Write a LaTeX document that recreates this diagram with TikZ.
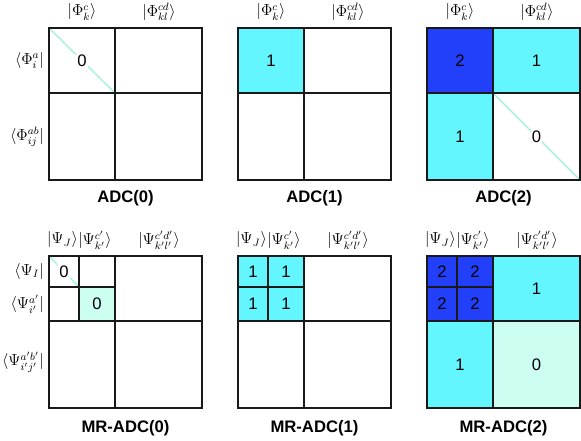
\documentclass[tikz,border=0pt]{standalone}
\usepackage{amsmath}
\usepackage{fontspec}
\newfontfamily\arialfont{Liberation Sans}
\usetikzlibrary{positioning}
\definecolor{adcblue}{RGB}{34,64,250}
\definecolor{adccyan}{RGB}{100,246,255}
\definecolor{adcmint}{RGB}{204,255,242}
\definecolor{adcdiag}{RGB}{172,242,226}

\begin{document}
\begin{tikzpicture}[
    x=0.75pt, y=-0.75pt,
    gridline/.style={line width=1.5pt, black!90},
    diagline/.style={line width=1.2pt, adcdiag},
    cellnum/.style={font=\arialfont\fontsize{12.5}{14}\selectfont, inner sep=1pt},
    blanknum/.style={cellnum, fill=white},
    caption/.style={font=\arialfont\bfseries\fontsize{12.5}{14}\selectfont},
    statelabel/.style={font=\fontsize{11.5}{13}\selectfont, inner sep=0pt}
]

\useasboundingbox (0,0) rectangle (581,441);

\newcommand{\blockgrid}[2]{%
    \begin{scope}[shift={(#1,#2)}]
        \draw[gridline] (0,0) rectangle (153,152);
        \draw[gridline] (66,0) -- (66,152) (0,65) -- (153,65);
    \end{scope}
}
\newcommand{\subgrid}[2]{%
    \begin{scope}[shift={(#1,#2)}]
        \draw[gridline] (30,0) -- (30,65) (0,31) -- (66,31);
    \end{scope}
}

% fills, top row
\fill[adccyan] (238,28) rectangle (304,93);
\fill[adcblue] (427,28) rectangle (493,93);
\fill[adccyan] (493,28) rectangle (580,93);
\fill[adccyan] (427,93) rectangle (493,180);

% fills, bottom row
\fill[adcmint] (79,287) rectangle (115,321);
\fill[adccyan] (238,256) rectangle (304,321);
\fill[adcblue] (427,256) rectangle (493,321);
\fill[adccyan] (493,256) rectangle (580,321);
\fill[adccyan] (427,321) rectangle (493,408);
\fill[adcmint] (493,321) rectangle (580,408);

% diagonals
\draw[diagline] (49,28) -- (115,93);
\draw[diagline] (493,93) -- (580,180);
\draw[diagline] (49,256) -- (79,287);

% cell numbers, top row
\node[blanknum] (a0) at (82,60.5) {0};
\node[cellnum] (b1) at (271,60.5) {1};
\node[cellnum] (c2) at (460,60.5) {2};
\node[cellnum] (c1a) at (536.5,60.5) {1};
\node[cellnum] (c1b) at (460,136.5) {1};
\node[blanknum] (c0) at (536.5,136.5) {0};

% cell numbers, bottom row
\node[blanknum] (d0a) at (64,271.5) {0};
\node[cellnum] (d0b) at (97,304) {0};
\foreach \cx/\cy [count=\k] in {253/271.5, 286/271.5, 253/304, 286/304}{
    \node[cellnum] (e\k) at (\cx,\cy) {1};
    \node[cellnum] (f\k) at (\cx+189,\cy) {2};
}
\node[cellnum] (f1a) at (536.5,288.5) {1};
\node[cellnum] (f1b) at (460,364.5) {1};
\node[cellnum] (f0) at (536.5,364.5) {0};

% grids
\foreach \px in {49,238,427}{
    \blockgrid{\px}{28}
    \blockgrid{\px}{256}
    \subgrid{\px}{256}
}

% state labels, top row
\foreach \px [count=\k] in {49,238,427}{
    \node[statelabel] (hk\k) at (\px+33,12) {$|\Phi^{c}_{k}\rangle$};
    \node[statelabel] (hkl\k) at (\px+110,12) {$|\Phi^{cd}_{kl}\rangle$};
}
\node[statelabel, anchor=east] (ria) at (44,60.5) {$\langle\Phi^{a}_{i}|$};
\node[statelabel, anchor=east] (rijab) at (44,136.5) {$\langle\Phi^{ab}_{ij}|$};

% state labels, bottom row
\foreach \px [count=\k] in {49,238,427}{
    \node[statelabel, anchor=east] (hJ\k) at (\px+29,240) {$|\Psi_{J}\rangle$};
    \node[statelabel, right=0pt of hJ\k] (hck\k) {$|\Psi^{c'}_{k'}\rangle$};
    \node[statelabel] (hcdkl\k) at (\px+110,240) {$|\Psi^{c'd'}_{k'l'}\rangle$};
}
\node[statelabel, anchor=east] (rI) at (44,271.5) {$\langle\Psi_{I}|$};
\node[statelabel, anchor=east] (ria2) at (44,304) {$\langle\Psi^{a'}_{i'}|$};
\node[statelabel, anchor=east] (rijab2) at (44,362) {$\langle\Psi^{a'b'}_{i'j'}|$};

% captions
\node[caption] (cap0) at (125.5,198) {ADC(0)};
\node[caption] (cap1) at (314.5,198) {ADC(1)};
\node[caption] (cap2) at (503.5,198) {ADC(2)};
\node[caption] (mcap0) at (125.5,428) {MR-ADC(0)};
\node[caption] (mcap1) at (314.5,428) {MR-ADC(1)};
\node[caption] (mcap2) at (503.5,428) {MR-ADC(2)};

\end{tikzpicture}
\end{document}
